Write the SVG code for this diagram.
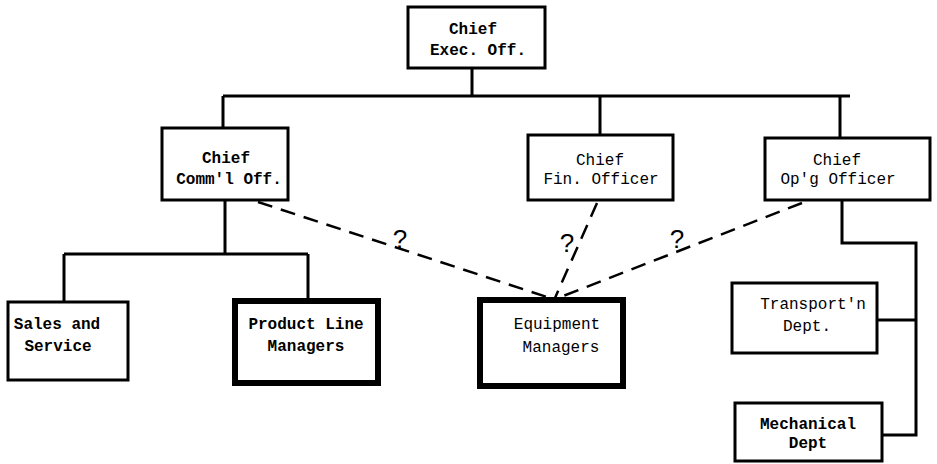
<svg xmlns="http://www.w3.org/2000/svg" width="937" height="464" viewBox="0 0 937 464">
<style>
.box{fill:#fff;stroke:#000;stroke-width:3}
.thick{fill:#fff;stroke:#000;stroke-width:6}
.t{font-family:"Liberation Mono","Courier New",monospace;font-size:16px;fill:#000;text-anchor:middle}
.b{font-weight:bold}
.ln{fill:none;stroke:#000;stroke-width:3}
.dash{fill:none;stroke:#000;stroke-width:2.5;stroke-dasharray:15 9}
.q{font-family:"Liberation Sans",Arial,sans-serif;font-size:26px;fill:#000;text-anchor:middle}
</style>
<rect width="937" height="464" fill="#fff"/>
<g id="connectors">
<path class="ln" d="M472 68V96M223 96H850M223 96V128M600 96V135M840 96V138"/>
<path class="ln" d="M225 200V254M64 254H308M64 254V302M308 254V300"/>
<path class="ln" d="M842 200V243H916V435H882M877 320H916"/>
<path class="dash" d="M258 202L550 298"/>
<path class="dash" d="M597 203L555 298"/>
<path class="dash" d="M802 203L558 298"/>
<text class="q" x="400" y="248">?</text>
<text class="q" x="567" y="252">?</text>
<text class="q" x="677" y="248">?</text>
</g>
<g id="ceo">
<rect class="box" x="408" y="7" width="137" height="61"/>
<text class="t b" x="473" y="34">Chief</text>
<text class="t b" x="478" y="55">Exec. Off.</text>
</g>
<g id="cco">
<rect class="box" x="162" y="128" width="126" height="72"/>
<text class="t b" x="226" y="163">Chief</text>
<text class="t b" x="229" y="184">Comm'l Off.</text>
</g>
<g id="cfo">
<rect class="box" x="528" y="135" width="145" height="65"/>
<text class="t" x="600" y="165">Chief</text>
<text class="t" x="601" y="184">Fin. Officer</text>
</g>
<g id="coo">
<rect class="box" x="765" y="138" width="165" height="62"/>
<text class="t" x="837" y="165">Chief</text>
<text class="t" x="838" y="184">Op'g Officer</text>
</g>
<g id="sales">
<rect class="box" x="8" y="302" width="120" height="78"/>
<text class="t b" x="57" y="329">Sales and</text>
<text class="t b" x="58" y="351">Service</text>
</g>
<g id="product">
<rect class="thick" x="235" y="301" width="143" height="82"/>
<text class="t b" x="306" y="329">Product Line</text>
<text class="t b" x="306" y="351">Managers</text>
</g>
<g id="equipment">
<rect class="thick" x="480" y="300" width="143" height="86"/>
<text class="t" x="557" y="329">Equipment</text>
<text class="t" x="561" y="352">Managers</text>
</g>
<g id="transport">
<rect class="box" x="732" y="283" width="145" height="70"/>
<text class="t" x="813" y="309">Transport'n</text>
<text class="t" x="807" y="331">Dept.</text>
</g>
<g id="mechanical">
<rect class="box" x="735" y="403" width="147" height="58"/>
<text class="t b" x="808" y="429">Mechanical</text>
<text class="t b" x="808" y="448">Dept</text>
</g>
</svg>
